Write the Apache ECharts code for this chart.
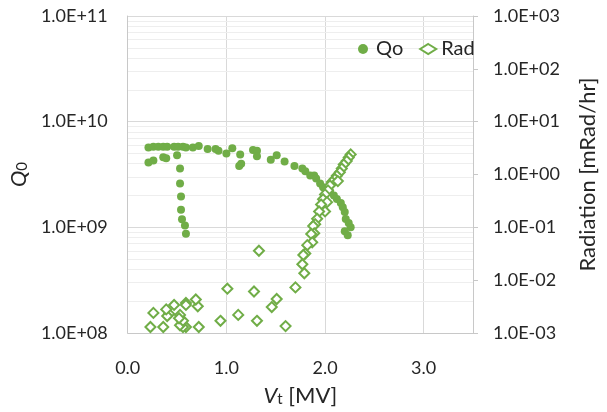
<!DOCTYPE html>
<html>
<head>
<meta charset="utf-8">
<script src="https://cdn.jsdelivr.net/npm/echarts@6/dist/echarts.min.js"></script>
<style>
  html, body { margin: 0; padding: 0; background: #ffffff; }
  #chart { width: 607px; height: 412px; }
</style>
</head>
<body>
<div id="chart"></div>
<script>
// Cavity test: intrinsic quality factor Qo and field-emission radiation vs. accelerating voltage
const qoVt = [
  0.21, 0.26, 0.31, 0.36, 0.40, 0.47, 0.51, 0.56, 0.59, 0.66, 0.72,
  0.81, 0.89, 0.92, 1.00, 1.06, 1.14, 1.27, 1.31, 1.31, 1.45, 1.51,
  1.59, 1.69, 1.77, 1.80, 1.85, 1.89, 1.91, 1.95, 1.98, 2.00, 2.05,
  2.09, 2.12, 2.16, 2.18, 2.20, 2.21, 2.24, 2.26, 2.20, 2.23,
  0.21, 0.26, 0.36, 0.39, 0.50, 1.13, 1.15,
  0.53, 0.53, 0.54, 0.54, 0.55, 0.58, 0.59
];
const qoVal = [
  5.7e9, 5.8e9, 5.8e9, 5.8e9, 5.8e9, 5.8e9, 5.8e9, 5.8e9, 5.7e9, 5.7e9, 5.9e9,
  5.5e9, 5.5e9, 5.3e9, 5.0e9, 5.6e9, 4.9e9, 5.4e9, 5.3e9, 4.7e9, 4.35e9, 4.8e9,
  4.2e9, 3.8e9, 3.6e9, 3.4e9, 3.1e9, 3.1e9, 2.9e9, 2.6e9, 2.4e9, 2.3e9, 2.2e9,
  2.0e9, 1.85e9, 1.7e9, 1.55e9, 1.4e9, 1.2e9, 1.1e9, 1.0e9, 0.92e9, 0.84e9,
  4.1e9, 4.3e9, 4.6e9, 4.5e9, 4.8e9, 3.8e9, 4.0e9,
  3.6e9, 2.6e9, 1.96e9, 1.47e9, 1.19e9, 1.04e9, 0.87e9
];
const radVt = [
  2.26, 2.24, 2.22, 2.19, 2.17, 2.15, 2.12, 2.10, 2.07, 2.13, 2.05,
  2.03, 2.00, 1.98, 2.02, 1.96, 2.00, 1.94, 1.92, 1.90, 1.88, 1.89,
  1.86, 1.87, 1.82, 1.80, 1.78, 1.77, 1.79, 1.70,
  1.51, 1.46, 1.60, 1.33, 1.28, 1.31, 1.12, 1.01, 0.94, 0.90,
  0.72, 0.71, 0.69, 0.59, 0.59, 0.59, 0.56, 0.53, 0.56, 0.53, 0.52,
  0.47, 0.42, 0.40, 0.39, 0.36, 0.26, 0.23
];
const radVal = [
  2.4, 2.1, 1.8, 1.55, 1.3, 1.1, 0.95, 0.82, 0.72, 0.75, 0.62,
  0.5, 0.42, 0.34, 0.3, 0.27, 0.2, 0.2, 0.145, 0.115, 0.106, 0.077,
  0.075, 0.052, 0.046, 0.032, 0.03, 0.02, 0.0135, 0.0073,
  0.0044, 0.0031, 0.00135, 0.036, 0.0061, 0.0017, 0.0022, 0.0069, 0.0017, 0.00099,
  0.0013, 0.0032, 0.0043, 0.0037, 0.0013, 0.0034, 0.0013, 0.0014, 0.0017, 0.0022, 0.0019,
  0.0034, 0.0023, 0.0021, 0.0028, 0.0013, 0.0024, 0.0013
];

const GREEN = '#70ad47';
const TEXT = '#262626';
const FONT = 'Lato, "Open Sans", sans-serif';

// "1.0E+09" style labels for the logarithmic axes
function sciLabel(v) {
  const e = Math.round(Math.log10(v));
  return '1.0E' + (e < 0 ? '-' : '+') + String(Math.abs(e)).padStart(2, '0');
}

// light minor gridlines at 2..9 within each decade of the Qo axis
const minorLines = [];
for (let p = 8; p < 11; p++) {
  for (let m = 2; m <= 9; m++) minorLines.push({ yAxis: m * Math.pow(10, p) });
}

const pairs = (xs, ys) => xs.map((x, i) => [x, ys[i]]);

const chart = echarts.init(document.getElementById('chart'), null, { renderer: 'canvas' });
chart.setOption({
  animation: false,
  backgroundColor: '#ffffff',
  textStyle: { fontFamily: FONT, color: TEXT },
  grid: { left: 123, right: 117, top: 16, bottom: 75, containLabel: false },
  legend: {
    left: 353, top: 34, z: 10,
    itemWidth: 16, itemHeight: 10, itemGap: 16,
    textStyle: { fontFamily: FONT, fontSize: 20, color: TEXT },
    data: [{ name: 'Qo', icon: 'circle' }, { name: 'Rad', icon: 'diamond' }]
  },
  xAxis: {
    type: 'value', min: 0, max: 3.5, interval: 1,
    name: '{v|V}{s|t}{n| [MV]}',
    nameLocation: 'middle', nameGap: 48,
    nameTextStyle: {
      rich: {
        v: { fontFamily: FONT, fontSize: 22, fontStyle: 'italic', color: TEXT, lineHeight: 26, verticalAlign: 'bottom' },
        s: { fontFamily: FONT, fontSize: 15, color: TEXT, lineHeight: 14, verticalAlign: 'bottom' },
        n: { fontFamily: FONT, fontSize: 22, color: TEXT, lineHeight: 26, verticalAlign: 'bottom' }
      }
    },
    axisLine: { show: true, onZero: false, lineStyle: { color: '#c8c8c8', width: 1 } },
    axisTick: { show: false },
    axisLabel: {
      fontFamily: FONT, fontSize: 18, color: TEXT, margin: 26,
      formatter: v => (Math.abs(v - Math.round(v)) < 1e-9 ? v.toFixed(1) : '')
    },
    splitLine: { show: true, lineStyle: { color: '#d9d9d9', width: 1 } }
  },
  yAxis: [
    {
      type: 'log', logBase: 10, min: 1e8, max: 1e11, splitNumber: 3,
      name: '{q|Q}{s|0}',
      nameLocation: 'middle', nameRotate: 90, nameGap: 96,
      nameTextStyle: {
        rich: {
          q: { fontFamily: FONT, fontSize: 22, fontStyle: 'italic', color: TEXT, lineHeight: 26, verticalAlign: 'bottom' },
          s: { fontFamily: FONT, fontSize: 15, color: TEXT, lineHeight: 14, verticalAlign: 'bottom' }
        }
      },
      axisLine: { show: true, lineStyle: { color: '#c8c8c8', width: 1 } },
      axisTick: { show: false },
      axisLabel: { fontFamily: FONT, fontSize: 18, color: TEXT, margin: 20, formatter: sciLabel },
      splitLine: { show: true, lineStyle: { color: '#d9d9d9', width: 1 } }
    },
    {
      type: 'log', logBase: 10, min: 1e-3, max: 1e3, splitNumber: 6,
      position: 'right',
      name: 'Radiation [mRad/hr]',
      nameLocation: 'middle', nameRotate: 90, nameGap: 104,
      nameTextStyle: { fontFamily: FONT, fontSize: 22, color: TEXT },
      axisLine: { show: true, lineStyle: { color: '#c8c8c8', width: 1 } },
      axisTick: { show: true, inside: false, length: 5, lineStyle: { color: '#c8c8c8' } },
      axisLabel: { fontFamily: FONT, fontSize: 18, color: TEXT, margin: 20, formatter: sciLabel },
      splitLine: { show: false }
    }
  ],
  series: [
    {
      name: 'minor grid', type: 'scatter', yAxisIndex: 0, data: [], z: 1, silent: true,
      markLine: {
        z: 0, silent: true, symbol: 'none', animation: false,
        label: { show: false },
        emphasis: { disabled: true },
        lineStyle: { color: '#eeeeee', width: 1, type: 'solid' },
        data: minorLines
      }
    },
    {
      name: 'Qo', type: 'scatter', yAxisIndex: 0, z: 3,
      symbol: 'circle', symbolSize: 8,
      itemStyle: { color: GREEN, opacity: 1 },
      data: pairs(qoVt, qoVal)
    },
    {
      name: 'Rad', type: 'scatter', yAxisIndex: 1, z: 4,
      symbol: 'diamond', symbolSize: 10,
      itemStyle: { color: '#ffffff', borderColor: GREEN, borderWidth: 2, opacity: 1 },
      data: pairs(radVt, radVal)
    }
  ]
});
</script>
</body>
</html>
